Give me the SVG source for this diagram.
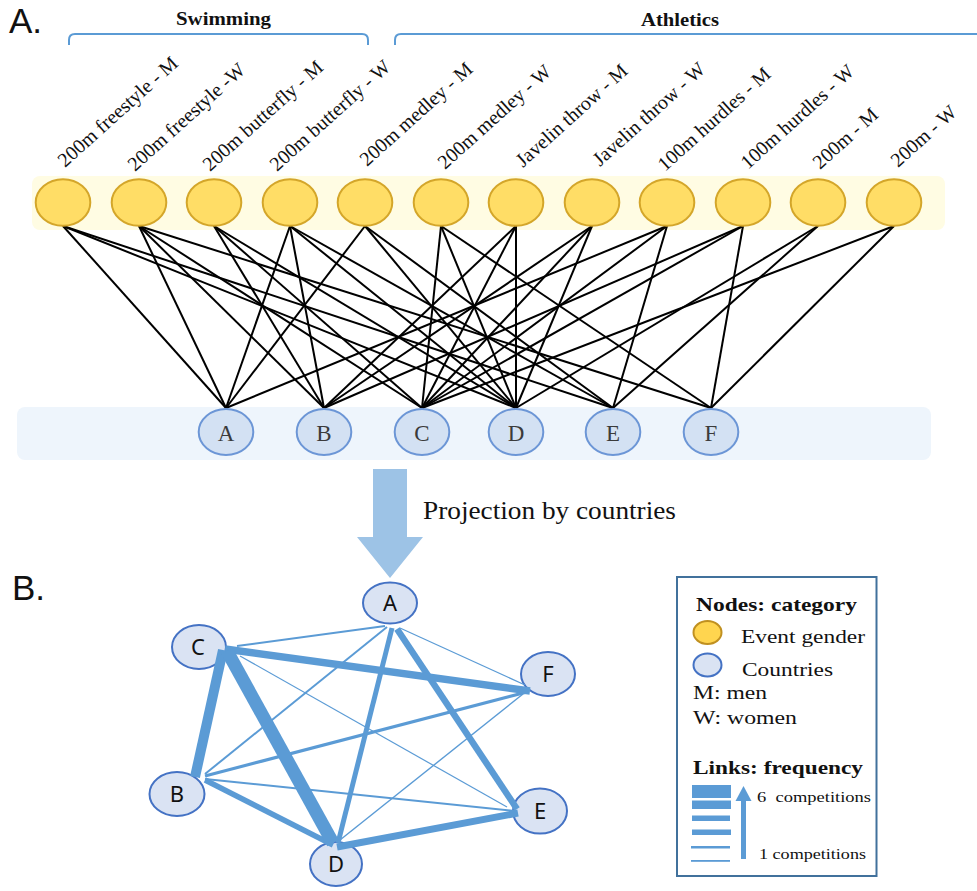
<svg xmlns="http://www.w3.org/2000/svg" width="977" height="891" viewBox="0 0 977 891">
<style>
.serif{font-family:"Liberation Serif","Times New Roman",serif;fill:#111}
.lab{font-family:"Liberation Serif","Times New Roman",serif;font-size:20px;fill:#111}
.ev{fill:#FFDD66;stroke:#D4A62A;stroke-width:2}
.co{fill:#D3E1F3;stroke:#6C96D6;stroke-width:2}
.cot{font-family:"Liberation Serif","Times New Roman",serif;font-size:23px;fill:#3b3b3b;text-anchor:middle}
.bn{fill:#DAE3F3;stroke:#4472C4;stroke-width:2}
.bt{font-family:"Noto Sans","Open Sans",sans-serif;font-size:22px;fill:#111;text-anchor:middle}
.ae line{stroke:#000;stroke-width:2}
.be line{stroke:#5B9BD5;stroke-linecap:butt}
.brk{fill:none;stroke:#5B9BD5;stroke-width:2}
.big{font-family:"Liberation Sans",Arial,sans-serif;font-size:35px;fill:#111}
</style>

<!-- Panel labels -->
<text class="big" x="9" y="33">A.</text>
<text class="big" x="12" y="600">B.</text>

<!-- Category headers -->
<text class="serif" x="176" y="25" font-size="19" font-weight="bold" textLength="95" lengthAdjust="spacingAndGlyphs">Swimming</text>
<text class="serif" x="641" y="26" font-size="19" font-weight="bold" textLength="78" lengthAdjust="spacingAndGlyphs">Athletics</text>
<path class="brk" d="M69,45 L69,40 Q69,34 75,34 L362,34 Q368,34 368,40 L368,45"/>
<path class="brk" d="M395,45 L395,40 Q395,34 401,34 L977,34"/>

<!-- Bands -->
<rect x="32" y="176" width="913" height="54" rx="8" fill="#FFFCE3"/>
<rect x="17" y="407" width="914" height="53" rx="8" fill="#EEF5FC"/>

<!-- Bipartite connectors -->
<g id="bipartite-links" class="ae">
<line x1="63" y1="226" x2="226" y2="408"/>
<line x1="63" y1="226" x2="516" y2="408"/>
<line x1="63" y1="226" x2="613" y2="408"/>
<line x1="139" y1="226" x2="226" y2="408"/>
<line x1="139" y1="226" x2="324" y2="408"/>
<line x1="139" y1="226" x2="422" y2="408"/>
<line x1="139" y1="226" x2="711" y2="408"/>
<line x1="214" y1="226" x2="324" y2="408"/>
<line x1="214" y1="226" x2="422" y2="408"/>
<line x1="214" y1="226" x2="516" y2="408"/>
<line x1="290" y1="226" x2="226" y2="408"/>
<line x1="290" y1="226" x2="324" y2="408"/>
<line x1="290" y1="226" x2="516" y2="408"/>
<line x1="290" y1="226" x2="613" y2="408"/>
<line x1="365" y1="226" x2="226" y2="408"/>
<line x1="365" y1="226" x2="516" y2="408"/>
<line x1="365" y1="226" x2="613" y2="408"/>
<line x1="441" y1="226" x2="422" y2="408"/>
<line x1="441" y1="226" x2="516" y2="408"/>
<line x1="441" y1="226" x2="711" y2="408"/>
<line x1="516" y1="226" x2="324" y2="408"/>
<line x1="516" y1="226" x2="422" y2="408"/>
<line x1="516" y1="226" x2="516" y2="408"/>
<line x1="592" y1="226" x2="324" y2="408"/>
<line x1="592" y1="226" x2="422" y2="408"/>
<line x1="592" y1="226" x2="516" y2="408"/>
<line x1="667" y1="226" x2="226" y2="408"/>
<line x1="667" y1="226" x2="422" y2="408"/>
<line x1="667" y1="226" x2="613" y2="408"/>
<line x1="743" y1="226" x2="324" y2="408"/>
<line x1="743" y1="226" x2="422" y2="408"/>
<line x1="743" y1="226" x2="711" y2="408"/>
<line x1="818" y1="226" x2="516" y2="408"/>
<line x1="818" y1="226" x2="613" y2="408"/>
<line x1="894" y1="226" x2="422" y2="408"/>
<line x1="894" y1="226" x2="711" y2="408"/>
</g>

<!-- Event nodes -->
<g id="ev1"><ellipse class="ev" cx="63" cy="202.5" rx="27.3" ry="23.3"/><text class="lab" transform="translate(65,168) rotate(-42)">200m freestyle - M</text></g>
<g id="ev2"><ellipse class="ev" cx="139" cy="202.5" rx="27.3" ry="23.3"/><text class="lab" transform="translate(135,172) rotate(-42)">200m freestyle -W</text></g>
<g id="ev3"><ellipse class="ev" cx="214" cy="202.5" rx="27.3" ry="23.3"/><text class="lab" transform="translate(210,172) rotate(-42)">200m butterfly - M</text></g>
<g id="ev4"><ellipse class="ev" cx="290" cy="202.5" rx="27.3" ry="23.3"/><text class="lab" transform="translate(277,172) rotate(-42)">200m butterfly - W</text></g>
<g id="ev5"><ellipse class="ev" cx="365" cy="202.5" rx="27.3" ry="23.3"/><text class="lab" transform="translate(367,167) rotate(-42)">200m medley - M</text></g>
<g id="ev6"><ellipse class="ev" cx="441" cy="202.5" rx="27.3" ry="23.3"/><text class="lab" transform="translate(445,170) rotate(-42)">200m medley - W</text></g>
<g id="ev7"><ellipse class="ev" cx="516" cy="202.5" rx="27.3" ry="23.3"/><text class="lab" transform="translate(523,168) rotate(-42)">Javelin throw - M</text></g>
<g id="ev8"><ellipse class="ev" cx="592" cy="202.5" rx="27.3" ry="23.3"/><text class="lab" transform="translate(600,167) rotate(-42)">Javelin throw - W</text></g>
<g id="ev9"><ellipse class="ev" cx="667" cy="202.5" rx="27.3" ry="23.3"/><text class="lab" transform="translate(665,172) rotate(-42)">100m hurdles - M</text></g>
<g id="ev10"><ellipse class="ev" cx="743" cy="202.5" rx="27.3" ry="23.3"/><text class="lab" transform="translate(748,170) rotate(-42)">100m hurdles - W</text></g>
<g id="ev11"><ellipse class="ev" cx="818" cy="202.5" rx="27.3" ry="23.3"/><text class="lab" transform="translate(820,170) rotate(-42)">200m - M</text></g>
<g id="ev12"><ellipse class="ev" cx="894" cy="202.5" rx="27.3" ry="23.3"/><text class="lab" transform="translate(898,168) rotate(-42)">200m - W</text></g>

<!-- Country nodes (bipartite) -->
<g id="cA"><ellipse class="co" cx="226" cy="432" rx="27.3" ry="23"/><text class="cot" x="226" y="441">A</text></g>
<g id="cB"><ellipse class="co" cx="324" cy="432" rx="27.3" ry="23"/><text class="cot" x="324" y="441">B</text></g>
<g id="cC"><ellipse class="co" cx="422" cy="432" rx="27.3" ry="23"/><text class="cot" x="422" y="441">C</text></g>
<g id="cD"><ellipse class="co" cx="516" cy="432" rx="27.3" ry="23"/><text class="cot" x="516" y="441">D</text></g>
<g id="cE"><ellipse class="co" cx="613" cy="432" rx="27.3" ry="23"/><text class="cot" x="613" y="441">E</text></g>
<g id="cF"><ellipse class="co" cx="711" cy="432" rx="27.3" ry="23"/><text class="cot" x="711" y="441">F</text></g>

<!-- Projection arrow -->
<g id="projection">
<polygon points="373,469 407,469 407,537 423,537 390,578 357,537 373,537" fill="#9DC3E6"/>
<text class="serif" x="423" y="519" font-size="26" textLength="253" lengthAdjust="spacingAndGlyphs">Projection by countries</text>
</g>

<!-- Projected nodes -->
<g id="pA"><ellipse class="bn" cx="390" cy="603" rx="27" ry="20.5"/><text class="bt" x="390" y="611">A</text></g>
<g id="pC"><ellipse class="bn" cx="199" cy="647" rx="27" ry="22"/><text class="bt" x="198" y="655">C</text></g>
<g id="pF"><ellipse class="bn" cx="548" cy="674" rx="27" ry="22"/><text class="bt" x="548" y="682">F</text></g>
<g id="pB"><ellipse class="bn" cx="177" cy="794" rx="27.5" ry="22"/><text class="bt" x="177" y="802">B</text></g>
<g id="pE"><ellipse class="bn" cx="540" cy="811" rx="27" ry="22.5"/><text class="bt" x="540" y="819">E</text></g>
<g id="pD"><ellipse class="bn" cx="336" cy="864" rx="26" ry="22"/><text class="bt" x="336" y="872">D</text></g>

<!-- Projected connectors -->
<g id="projected-links" class="be">
<line x1="237" y1="646" x2="385" y2="626" stroke-width="2"/>
<line x1="240" y1="656" x2="507" y2="807" stroke-width="1.2"/>
<line x1="387" y1="627" x2="205" y2="774" stroke-width="2"/>
<line x1="400" y1="628" x2="525" y2="685" stroke-width="1.2"/>
<line x1="527" y1="692" x2="205" y2="776" stroke-width="3.2"/>
<line x1="523" y1="694" x2="340" y2="840" stroke-width="1.4"/>
<line x1="205" y1="779" x2="515" y2="811" stroke-width="2"/>
<line x1="392" y1="628" x2="338" y2="843" stroke-width="5"/>
<line x1="205" y1="780" x2="333" y2="845" stroke-width="5.5"/>
<line x1="397" y1="629" x2="517" y2="809" stroke-width="6.5"/>
<line x1="337" y1="847" x2="518" y2="813" stroke-width="7"/>
<line x1="225" y1="649" x2="530" y2="691" stroke-width="7.5"/>
<line x1="223" y1="650" x2="195" y2="777" stroke-width="10"/>
<line x1="227" y1="651" x2="333" y2="843" stroke-width="13"/>
</g>

<!-- Legend -->
<g id="legend">
<rect x="677" y="577" width="199.5" height="299" fill="#fff" stroke="#41719C" stroke-width="2"/>
<text class="serif" x="696" y="611" font-size="19" font-weight="bold" textLength="161" lengthAdjust="spacingAndGlyphs">Nodes: category</text>
<ellipse cx="707.5" cy="632.5" rx="14" ry="11.5" fill="#FFD54F" stroke="#C09020" stroke-width="2"/>
<text class="serif" x="741" y="643" font-size="18.5" textLength="124" lengthAdjust="spacingAndGlyphs">Event gender</text>
<ellipse cx="707.5" cy="665" rx="14" ry="11.5" fill="#DAE3F3" stroke="#4472C4" stroke-width="2"/>
<text class="serif" x="742" y="676" font-size="18.5" textLength="91" lengthAdjust="spacingAndGlyphs">Countries</text>
<text class="serif" x="693" y="699" font-size="18.5" textLength="74" lengthAdjust="spacingAndGlyphs">M: men</text>
<text class="serif" x="693" y="724" font-size="18.5" textLength="104" lengthAdjust="spacingAndGlyphs">W: women</text>
<text class="serif" x="693" y="774" font-size="19" font-weight="bold" textLength="170" lengthAdjust="spacingAndGlyphs">Links: frequency</text>
<g fill="#5B9BD5">
<rect x="692" y="785" width="39" height="13"/>
<rect x="692" y="800.5" width="39" height="8.5"/>
<rect x="692" y="815.5" width="38" height="5.5"/>
<rect x="692" y="829.5" width="39" height="5.5"/>
<rect x="691" y="846" width="39" height="2.5"/>
<rect x="691" y="860" width="39" height="1.8"/>
<rect x="741" y="799" width="5" height="60"/>
<polygon points="735.5,801 751.5,801 743.5,786"/>
</g>
<text class="serif" x="757" y="802" font-size="15.5" textLength="114" lengthAdjust="spacingAndGlyphs">6&#160; competitions</text>
<text class="serif" x="759" y="859" font-size="15.5" textLength="107" lengthAdjust="spacingAndGlyphs">1 competitions</text>
</g>
</svg>
